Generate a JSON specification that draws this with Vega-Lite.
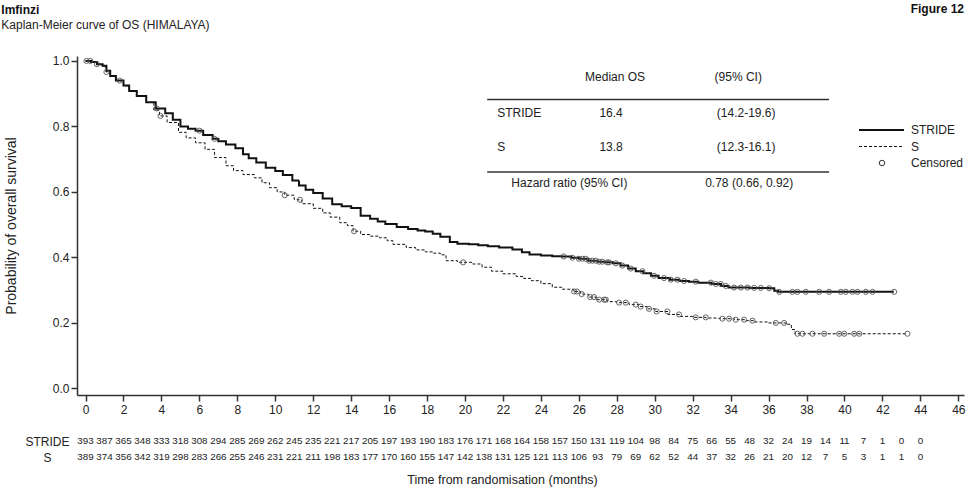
{
  "$schema": "https://vega.github.io/schema/vega-lite/v6.json",
  "background": "white",
  "padding": {"left": 1, "top": 2, "right": 2, "bottom": 2},
  "config": {
    "font": "Liberation Sans",
    "view": {"stroke": null},
    "axis": {"grid": false, "domainColor": "#333", "tickColor": "#333", "labelColor": "#222", "titleColor": "#222", "labelFont": "Liberation Sans", "titleFont": "Liberation Sans", "labelFontSize": 12, "titleFontSize": 12.5, "titleFontWeight": "normal", "domainWidth": 1.5, "tickWidth": 1.5},
    "legend": {"labelFont": "Liberation Sans", "labelFontSize": 12, "labelColor": "#222", "padding": 0},
    "title": {"font": "Liberation Sans", "subtitleFont": "Liberation Sans"},
    "text": {"font": "Liberation Sans"},
    "concat": {"spacing": 18}
  },
  "title": {"text": "Figure 12", "anchor": "end", "fontSize": 12, "fontWeight": "bold", "color": "#111", "offset": -12, "frame": "group"},
  "datasets": {
    "km": [
      {"arm":"STRIDE","month":0,"surv":1.0},{"arm":"STRIDE","month":0.3,"surv":0.997},{"arm":"STRIDE","month":0.6,"surv":0.99},{"arm":"STRIDE","month":0.9,"surv":0.985},{"arm":"STRIDE","month":1.1,"surv":0.97},{"arm":"STRIDE","month":1.3,"surv":0.954},{"arm":"STRIDE","month":1.6,"surv":0.94},{"arm":"STRIDE","month":2.0,"surv":0.925},{"arm":"STRIDE","month":2.3,"surv":0.908},{"arm":"STRIDE","month":2.7,"surv":0.893},{"arm":"STRIDE","month":3.2,"surv":0.874},{"arm":"STRIDE","month":3.7,"surv":0.855},{"arm":"STRIDE","month":4.2,"surv":0.84},{"arm":"STRIDE","month":4.6,"surv":0.82},{"arm":"STRIDE","month":5.0,"surv":0.8},{"arm":"STRIDE","month":5.4,"surv":0.793},{"arm":"STRIDE","month":5.8,"surv":0.787},{"arm":"STRIDE","month":6.2,"surv":0.774},{"arm":"STRIDE","month":6.7,"surv":0.762},{"arm":"STRIDE","month":7.0,"surv":0.755},{"arm":"STRIDE","month":7.4,"surv":0.745},{"arm":"STRIDE","month":7.9,"surv":0.733},{"arm":"STRIDE","month":8.3,"surv":0.715},{"arm":"STRIDE","month":8.6,"surv":0.703},{"arm":"STRIDE","month":9.0,"surv":0.69},{"arm":"STRIDE","month":9.5,"surv":0.674},{"arm":"STRIDE","month":10.0,"surv":0.664},{"arm":"STRIDE","month":10.4,"surv":0.652},{"arm":"STRIDE","month":10.9,"surv":0.635},{"arm":"STRIDE","month":11.25,"surv":0.62},{"arm":"STRIDE","month":11.6,"surv":0.607},{"arm":"STRIDE","month":12.0,"surv":0.597},{"arm":"STRIDE","month":12.5,"surv":0.58},{"arm":"STRIDE","month":13.0,"surv":0.562},{"arm":"STRIDE","month":13.5,"surv":0.556},{"arm":"STRIDE","month":14.0,"surv":0.551},{"arm":"STRIDE","month":14.5,"surv":0.527},{"arm":"STRIDE","month":15.0,"surv":0.518},{"arm":"STRIDE","month":15.4,"surv":0.51},{"arm":"STRIDE","month":15.8,"surv":0.502},{"arm":"STRIDE","month":16.4,"surv":0.493},{"arm":"STRIDE","month":17.0,"surv":0.487},{"arm":"STRIDE","month":17.5,"surv":0.482},{"arm":"STRIDE","month":17.9,"surv":0.479},{"arm":"STRIDE","month":18.3,"surv":0.472},{"arm":"STRIDE","month":18.7,"surv":0.463},{"arm":"STRIDE","month":19.2,"surv":0.447},{"arm":"STRIDE","month":19.6,"surv":0.442},{"arm":"STRIDE","month":20.2,"surv":0.44},{"arm":"STRIDE","month":20.7,"surv":0.437},{"arm":"STRIDE","month":21.2,"surv":0.434},{"arm":"STRIDE","month":21.8,"surv":0.43},{"arm":"STRIDE","month":22.5,"surv":0.424},{"arm":"STRIDE","month":23.0,"surv":0.416},{"arm":"STRIDE","month":23.4,"surv":0.409},{"arm":"STRIDE","month":24.0,"surv":0.406},{"arm":"STRIDE","month":24.6,"surv":0.404},{"arm":"STRIDE","month":25.1,"surv":0.403},{"arm":"STRIDE","month":25.6,"surv":0.399},{"arm":"STRIDE","month":26.0,"surv":0.396},{"arm":"STRIDE","month":26.5,"surv":0.39},{"arm":"STRIDE","month":27.0,"surv":0.387},{"arm":"STRIDE","month":27.4,"surv":0.385},{"arm":"STRIDE","month":27.8,"surv":0.382},{"arm":"STRIDE","month":28.2,"surv":0.375},{"arm":"STRIDE","month":28.6,"surv":0.366},{"arm":"STRIDE","month":29.0,"surv":0.358},{"arm":"STRIDE","month":29.4,"surv":0.352},{"arm":"STRIDE","month":29.8,"surv":0.344},{"arm":"STRIDE","month":30.2,"surv":0.337},{"arm":"STRIDE","month":30.8,"surv":0.332},{"arm":"STRIDE","month":31.3,"surv":0.328},{"arm":"STRIDE","month":31.8,"surv":0.326},{"arm":"STRIDE","month":32.3,"surv":0.323},{"arm":"STRIDE","month":33.0,"surv":0.319},{"arm":"STRIDE","month":33.5,"surv":0.313},{"arm":"STRIDE","month":33.9,"surv":0.308},{"arm":"STRIDE","month":35.0,"surv":0.307},{"arm":"STRIDE","month":36.0,"surv":0.306},{"arm":"STRIDE","month":36.3,"surv":0.298},{"arm":"STRIDE","month":36.5,"surv":0.295},{"arm":"STRIDE","month":42.6,"surv":0.295},
      {"arm":"S","month":0,"surv":1.0},{"arm":"S","month":0.3,"surv":0.996},{"arm":"S","month":0.6,"surv":0.99},{"arm":"S","month":0.9,"surv":0.982},{"arm":"S","month":1.1,"surv":0.966},{"arm":"S","month":1.3,"surv":0.954},{"arm":"S","month":1.6,"surv":0.94},{"arm":"S","month":2.0,"surv":0.924},{"arm":"S","month":2.3,"surv":0.908},{"arm":"S","month":2.7,"surv":0.893},{"arm":"S","month":3.2,"surv":0.873},{"arm":"S","month":3.6,"surv":0.85},{"arm":"S","month":3.9,"surv":0.832},{"arm":"S","month":4.3,"surv":0.812},{"arm":"S","month":4.9,"surv":0.782},{"arm":"S","month":5.3,"surv":0.765},{"arm":"S","month":5.8,"surv":0.75},{"arm":"S","month":6.3,"surv":0.73},{"arm":"S","month":6.8,"surv":0.705},{"arm":"S","month":7.4,"surv":0.68},{"arm":"S","month":7.8,"surv":0.665},{"arm":"S","month":8.3,"surv":0.653},{"arm":"S","month":8.9,"surv":0.643},{"arm":"S","month":9.3,"surv":0.628},{"arm":"S","month":9.7,"surv":0.613},{"arm":"S","month":10.1,"surv":0.6},{"arm":"S","month":10.5,"surv":0.59},{"arm":"S","month":11.0,"surv":0.576},{"arm":"S","month":11.4,"surv":0.564},{"arm":"S","month":12.0,"surv":0.55},{"arm":"S","month":12.5,"surv":0.536},{"arm":"S","month":12.9,"surv":0.523},{"arm":"S","month":13.4,"surv":0.506},{"arm":"S","month":13.8,"surv":0.497},{"arm":"S","month":14.1,"surv":0.48},{"arm":"S","month":14.5,"surv":0.47},{"arm":"S","month":15.0,"surv":0.465},{"arm":"S","month":15.5,"surv":0.46},{"arm":"S","month":15.9,"surv":0.451},{"arm":"S","month":16.2,"surv":0.44},{"arm":"S","month":16.9,"surv":0.43},{"arm":"S","month":17.4,"surv":0.423},{"arm":"S","month":17.9,"surv":0.417},{"arm":"S","month":18.3,"surv":0.413},{"arm":"S","month":18.7,"surv":0.408},{"arm":"S","month":19.0,"surv":0.39},{"arm":"S","month":19.6,"surv":0.385},{"arm":"S","month":20.4,"surv":0.38},{"arm":"S","month":20.9,"surv":0.37},{"arm":"S","month":21.4,"surv":0.358},{"arm":"S","month":22.0,"surv":0.35},{"arm":"S","month":22.7,"surv":0.342},{"arm":"S","month":23.1,"surv":0.336},{"arm":"S","month":23.5,"surv":0.329},{"arm":"S","month":24.0,"surv":0.32},{"arm":"S","month":24.6,"surv":0.309},{"arm":"S","month":25.1,"surv":0.303},{"arm":"S","month":25.7,"surv":0.296},{"arm":"S","month":26.1,"surv":0.288},{"arm":"S","month":26.5,"surv":0.279},{"arm":"S","month":26.9,"surv":0.271},{"arm":"S","month":27.5,"surv":0.265},{"arm":"S","month":28.0,"surv":0.262},{"arm":"S","month":28.65,"surv":0.256},{"arm":"S","month":29.2,"surv":0.25},{"arm":"S","month":29.6,"surv":0.243},{"arm":"S","month":30.05,"surv":0.235},{"arm":"S","month":30.7,"surv":0.226},{"arm":"S","month":31.3,"surv":0.22},{"arm":"S","month":32.0,"surv":0.217},{"arm":"S","month":32.7,"surv":0.215},{"arm":"S","month":33.4,"surv":0.213},{"arm":"S","month":34.2,"surv":0.21},{"arm":"S","month":34.8,"surv":0.207},{"arm":"S","month":35.2,"surv":0.203},{"arm":"S","month":36.0,"surv":0.2},{"arm":"S","month":36.9,"surv":0.196},{"arm":"S","month":37.2,"surv":0.18},{"arm":"S","month":37.4,"surv":0.167},{"arm":"S","month":43.3,"surv":0.167}
    ],
    "censored": [
      {"arm":"STRIDE","month":0.05,"surv":1.0,"status":"Censored"},{"arm":"STRIDE","month":0.6,"surv":0.99,"status":"Censored"},{"arm":"STRIDE","month":3.75,"surv":0.855,"status":"Censored"},{"arm":"STRIDE","month":6.0,"surv":0.787,"status":"Censored"},{"arm":"STRIDE","month":6.8,"surv":0.762,"status":"Censored"},
      {"arm":"STRIDE","month":25.2,"surv":0.403,"status":"Censored"},{"arm":"STRIDE","month":25.66,"surv":0.399,"status":"Censored"},{"arm":"STRIDE","month":26.0,"surv":0.396,"status":"Censored"},{"arm":"STRIDE","month":26.19,"surv":0.396,"status":"Censored"},{"arm":"STRIDE","month":26.36,"surv":0.396,"status":"Censored"},{"arm":"STRIDE","month":26.54,"surv":0.39,"status":"Censored"},{"arm":"STRIDE","month":26.71,"surv":0.39,"status":"Censored"},{"arm":"STRIDE","month":26.89,"surv":0.39,"status":"Censored"},{"arm":"STRIDE","month":27.07,"surv":0.387,"status":"Censored"},{"arm":"STRIDE","month":27.24,"surv":0.387,"status":"Censored"},{"arm":"STRIDE","month":27.5,"surv":0.385,"status":"Censored"},{"arm":"STRIDE","month":27.59,"surv":0.385,"status":"Censored"},{"arm":"STRIDE","month":27.95,"surv":0.382,"status":"Censored"},{"arm":"STRIDE","month":28.29,"surv":0.375,"status":"Censored"},{"arm":"STRIDE","month":28.74,"surv":0.366,"status":"Censored"},{"arm":"STRIDE","month":29.35,"surv":0.358,"status":"Censored"},{"arm":"STRIDE","month":29.97,"surv":0.344,"status":"Censored"},{"arm":"STRIDE","month":30.49,"surv":0.337,"status":"Censored"},{"arm":"STRIDE","month":30.85,"surv":0.332,"status":"Censored"},{"arm":"STRIDE","month":31.19,"surv":0.332,"status":"Censored"},{"arm":"STRIDE","month":31.55,"surv":0.328,"status":"Censored"},{"arm":"STRIDE","month":32.16,"surv":0.326,"status":"Censored"},{"arm":"STRIDE","month":32.96,"surv":0.323,"status":"Censored"},{"arm":"STRIDE","month":33.22,"surv":0.319,"status":"Censored"},{"arm":"STRIDE","month":33.48,"surv":0.319,"status":"Censored"},{"arm":"STRIDE","month":33.75,"surv":0.313,"status":"Censored"},{"arm":"STRIDE","month":34.18,"surv":0.308,"status":"Censored"},{"arm":"STRIDE","month":34.54,"surv":0.308,"status":"Censored"},{"arm":"STRIDE","month":34.89,"surv":0.308,"status":"Censored"},{"arm":"STRIDE","month":35.24,"surv":0.307,"status":"Censored"},{"arm":"STRIDE","month":35.59,"surv":0.307,"status":"Censored"},{"arm":"STRIDE","month":36.03,"surv":0.306,"status":"Censored"},{"arm":"STRIDE","month":36.56,"surv":0.295,"status":"Censored"},{"arm":"STRIDE","month":37.26,"surv":0.295,"status":"Censored"},{"arm":"STRIDE","month":37.52,"surv":0.295,"status":"Censored"},{"arm":"STRIDE","month":37.96,"surv":0.295,"status":"Censored"},{"arm":"STRIDE","month":38.67,"surv":0.295,"status":"Censored"},{"arm":"STRIDE","month":39.19,"surv":0.295,"status":"Censored"},{"arm":"STRIDE","month":39.81,"surv":0.295,"status":"Censored"},{"arm":"STRIDE","month":40.07,"surv":0.295,"status":"Censored"},{"arm":"STRIDE","month":40.42,"surv":0.295,"status":"Censored"},{"arm":"STRIDE","month":40.69,"surv":0.295,"status":"Censored"},{"arm":"STRIDE","month":41.13,"surv":0.295,"status":"Censored"},{"arm":"STRIDE","month":41.48,"surv":0.295,"status":"Censored"},{"arm":"STRIDE","month":42.62,"surv":0.295,"status":"Censored"},
      {"arm":"S","month":0.25,"surv":1.0,"status":"Censored"},{"arm":"S","month":1.1,"surv":0.966,"status":"Censored"},{"arm":"S","month":1.8,"surv":0.94,"status":"Censored"},{"arm":"S","month":3.95,"surv":0.832,"status":"Censored"},{"arm":"S","month":10.5,"surv":0.59,"status":"Censored"},{"arm":"S","month":11.3,"surv":0.576,"status":"Censored"},{"arm":"S","month":14.15,"surv":0.48,"status":"Censored"},{"arm":"S","month":19.9,"surv":0.385,"status":"Censored"},
      {"arm":"S","month":25.75,"surv":0.296,"status":"Censored"},{"arm":"S","month":25.9,"surv":0.296,"status":"Censored"},{"arm":"S","month":26.15,"surv":0.288,"status":"Censored"},{"arm":"S","month":26.6,"surv":0.279,"status":"Censored"},{"arm":"S","month":26.8,"surv":0.279,"status":"Censored"},{"arm":"S","month":27.07,"surv":0.271,"status":"Censored"},{"arm":"S","month":27.33,"surv":0.271,"status":"Censored"},{"arm":"S","month":27.42,"surv":0.271,"status":"Censored"},{"arm":"S","month":28.12,"surv":0.262,"status":"Censored"},{"arm":"S","month":28.47,"surv":0.262,"status":"Censored"},{"arm":"S","month":29.0,"surv":0.256,"status":"Censored"},{"arm":"S","month":29.26,"surv":0.25,"status":"Censored"},{"arm":"S","month":29.7,"surv":0.243,"status":"Censored"},{"arm":"S","month":30.1,"surv":0.235,"status":"Censored"},{"arm":"S","month":30.67,"surv":0.235,"status":"Censored"},{"arm":"S","month":31.28,"surv":0.226,"status":"Censored"},{"arm":"S","month":32.16,"surv":0.217,"status":"Censored"},{"arm":"S","month":32.69,"surv":0.217,"status":"Censored"},{"arm":"S","month":33.57,"surv":0.213,"status":"Censored"},{"arm":"S","month":33.92,"surv":0.213,"status":"Censored"},{"arm":"S","month":34.27,"surv":0.21,"status":"Censored"},{"arm":"S","month":34.71,"surv":0.21,"status":"Censored"},{"arm":"S","month":35.15,"surv":0.207,"status":"Censored"},{"arm":"S","month":36.38,"surv":0.2,"status":"Censored"},{"arm":"S","month":36.82,"surv":0.2,"status":"Censored"},{"arm":"S","month":37.52,"surv":0.167,"status":"Censored"},{"arm":"S","month":37.79,"surv":0.167,"status":"Censored"},{"arm":"S","month":38.31,"surv":0.167,"status":"Censored"},{"arm":"S","month":38.93,"surv":0.167,"status":"Censored"},{"arm":"S","month":39.72,"surv":0.167,"status":"Censored"},{"arm":"S","month":39.99,"surv":0.167,"status":"Censored"},{"arm":"S","month":40.51,"surv":0.167,"status":"Censored"},{"arm":"S","month":40.78,"surv":0.167,"status":"Censored"},{"arm":"S","month":43.32,"surv":0.167,"status":"Censored"}
    ],
    "risk": [
      {"arm":"STRIDE","month":0,"n":393},{"arm":"STRIDE","month":1,"n":387},{"arm":"STRIDE","month":2,"n":365},{"arm":"STRIDE","month":3,"n":348},{"arm":"STRIDE","month":4,"n":333},{"arm":"STRIDE","month":5,"n":318},{"arm":"STRIDE","month":6,"n":308},{"arm":"STRIDE","month":7,"n":294},{"arm":"STRIDE","month":8,"n":285},{"arm":"STRIDE","month":9,"n":269},{"arm":"STRIDE","month":10,"n":262},{"arm":"STRIDE","month":11,"n":245},{"arm":"STRIDE","month":12,"n":235},{"arm":"STRIDE","month":13,"n":221},{"arm":"STRIDE","month":14,"n":217},{"arm":"STRIDE","month":15,"n":205},{"arm":"STRIDE","month":16,"n":197},{"arm":"STRIDE","month":17,"n":193},{"arm":"STRIDE","month":18,"n":190},{"arm":"STRIDE","month":19,"n":183},{"arm":"STRIDE","month":20,"n":176},{"arm":"STRIDE","month":21,"n":171},{"arm":"STRIDE","month":22,"n":168},{"arm":"STRIDE","month":23,"n":164},{"arm":"STRIDE","month":24,"n":158},{"arm":"STRIDE","month":25,"n":157},{"arm":"STRIDE","month":26,"n":150},{"arm":"STRIDE","month":27,"n":131},{"arm":"STRIDE","month":28,"n":119},{"arm":"STRIDE","month":29,"n":104},{"arm":"STRIDE","month":30,"n":98},{"arm":"STRIDE","month":31,"n":84},{"arm":"STRIDE","month":32,"n":75},{"arm":"STRIDE","month":33,"n":66},{"arm":"STRIDE","month":34,"n":55},{"arm":"STRIDE","month":35,"n":48},{"arm":"STRIDE","month":36,"n":32},{"arm":"STRIDE","month":37,"n":24},{"arm":"STRIDE","month":38,"n":19},{"arm":"STRIDE","month":39,"n":14},{"arm":"STRIDE","month":40,"n":11},{"arm":"STRIDE","month":41,"n":7},{"arm":"STRIDE","month":42,"n":1},{"arm":"STRIDE","month":43,"n":0},{"arm":"STRIDE","month":44,"n":0},
      {"arm":"S","month":0,"n":389},{"arm":"S","month":1,"n":374},{"arm":"S","month":2,"n":356},{"arm":"S","month":3,"n":342},{"arm":"S","month":4,"n":319},{"arm":"S","month":5,"n":298},{"arm":"S","month":6,"n":283},{"arm":"S","month":7,"n":266},{"arm":"S","month":8,"n":255},{"arm":"S","month":9,"n":246},{"arm":"S","month":10,"n":231},{"arm":"S","month":11,"n":221},{"arm":"S","month":12,"n":211},{"arm":"S","month":13,"n":198},{"arm":"S","month":14,"n":183},{"arm":"S","month":15,"n":177},{"arm":"S","month":16,"n":170},{"arm":"S","month":17,"n":160},{"arm":"S","month":18,"n":155},{"arm":"S","month":19,"n":147},{"arm":"S","month":20,"n":142},{"arm":"S","month":21,"n":138},{"arm":"S","month":22,"n":131},{"arm":"S","month":23,"n":125},{"arm":"S","month":24,"n":121},{"arm":"S","month":25,"n":113},{"arm":"S","month":26,"n":106},{"arm":"S","month":27,"n":93},{"arm":"S","month":28,"n":79},{"arm":"S","month":29,"n":69},{"arm":"S","month":30,"n":62},{"arm":"S","month":31,"n":52},{"arm":"S","month":32,"n":44},{"arm":"S","month":33,"n":37},{"arm":"S","month":34,"n":32},{"arm":"S","month":35,"n":26},{"arm":"S","month":36,"n":21},{"arm":"S","month":37,"n":20},{"arm":"S","month":38,"n":12},{"arm":"S","month":39,"n":7},{"arm":"S","month":40,"n":5},{"arm":"S","month":41,"n":3},{"arm":"S","month":42,"n":1},{"arm":"S","month":43,"n":1},{"arm":"S","month":44,"n":0}
    ]
  },
  "vconcat": [
    {
      "width": 887,
      "height": 339,
      "title": {"text": "Imfinzi", "subtitle": "Kaplan-Meier curve of OS (HIMALAYA)", "anchor": "start", "frame": "bounds", "fontSize": 12, "fontWeight": "bold", "color": "#111", "subtitleFontSize": 12, "subtitleColor": "#222", "subtitlePadding": 3, "offset": 23, "dx": -3},
      "layer": [
        {
          "data": {"name": "km"},
          "mark": {"type": "line", "interpolate": "step-after", "color": "#111"},
          "encoding": {
            "x": {"field": "month", "type": "quantitative", "scale": {"domain": [-0.45, 46.3], "nice": false, "zero": false}, "axis": {"values": [0,2,4,6,8,10,12,14,16,18,20,22,24,26,28,30,32,34,36,38,40,42,44,46], "tickCount": 24, "title": null, "tickSize": 6, "labelPadding": 3, "labelOverlap": false, "labelFlush": false}},
            "y": {"field": "surv", "type": "quantitative", "scale": {"domain": [-0.02, 1.015], "nice": false, "zero": false}, "axis": {"values": [0,0.2,0.4,0.6,0.8,1.0], "format": ".1f", "title": "Probability of overall survival", "titleFontSize": 14, "tickSize": 6, "labelPadding": 2, "titlePadding": 34}},
            "detail": {"field": "arm"},
            "strokeDash": {"field": "arm", "type": "nominal", "scale": {"domain": ["STRIDE", "S"], "range": [[1, 0], [3, 2]]}, "legend": {"title": null, "orient": "none", "legendX": 781, "legendY": 67, "symbolType": "stroke", "symbolSize": 2025, "clipHeight": 14, "rowPadding": 2.5, "symbolStrokeColor": "#111", "labelOffset": 6}},
            "strokeWidth": {"field": "arm", "type": "nominal", "scale": {"domain": ["STRIDE", "S"], "range": [2, 1]}}
          }
        },
        {
          "data": {"name": "censored"},
          "mark": {"type": "point", "filled": false, "size": 26, "color": "#555", "strokeWidth": 0.9, "opacity": 1},
          "encoding": {
            "x": {"field": "month", "type": "quantitative", "axis": {"values": [0,2,4,6,8,10,12,14,16,18,20,22,24,26,28,30,32,34,36,38,40,42,44,46], "tickCount": 24, "title": null, "tickSize": 6, "labelPadding": 3, "labelOverlap": false, "labelFlush": false}},
            "y": {"field": "surv", "type": "quantitative"},
            "shape": {"field": "status", "type": "nominal", "scale": {"range": ["circle"]}, "legend": {"title": null, "orient": "none", "legendX": 799, "legendY": 101, "symbolSize": 30, "symbolFillColor": "white", "symbolStrokeColor": "#333", "symbolStrokeWidth": 1, "labelOffset": 23}}
          }
        },
        {"data": {"values": [{}]}, "mark": {"type": "rule", "color": "#333", "strokeWidth": 1.5}, "encoding": {"x": {"datum": 21.17}, "x2": {"datum": 39.19}, "y": {"datum": 0.882}}},
        {"data": {"values": [{}]}, "mark": {"type": "rule", "color": "#333", "strokeWidth": 1.5}, "encoding": {"x": {"datum": 21.17}, "x2": {"datum": 39.19}, "y": {"datum": 0.661}}},
        {"data": {"values": [{}]}, "mark": {"type": "text", "fontSize": 12, "color": "#222", "align": "center", "baseline": "middle"}, "encoding": {"x": {"datum": 27.91}, "y": {"datum": 0.951}, "text": {"value": "Median OS"}}},
        {"data": {"values": [{}]}, "mark": {"type": "text", "fontSize": 12, "color": "#222", "align": "center", "baseline": "middle"}, "encoding": {"x": {"datum": 34.4}, "y": {"datum": 0.951}, "text": {"value": "(95% CI)"}}},
        {"data": {"values": [{}]}, "mark": {"type": "text", "fontSize": 12, "color": "#222", "align": "left", "baseline": "middle"}, "encoding": {"x": {"datum": 21.7}, "y": {"datum": 0.841}, "text": {"value": "STRIDE"}}},
        {"data": {"values": [{}]}, "mark": {"type": "text", "fontSize": 12, "color": "#222", "align": "center", "baseline": "middle"}, "encoding": {"x": {"datum": 27.7}, "y": {"datum": 0.841}, "text": {"value": "16.4"}}},
        {"data": {"values": [{}]}, "mark": {"type": "text", "fontSize": 12, "color": "#222", "align": "center", "baseline": "middle"}, "encoding": {"x": {"datum": 34.82}, "y": {"datum": 0.841}, "text": {"value": "(14.2-19.6)"}}},
        {"data": {"values": [{}]}, "mark": {"type": "text", "fontSize": 12, "color": "#222", "align": "left", "baseline": "middle"}, "encoding": {"x": {"datum": 21.7}, "y": {"datum": 0.737}, "text": {"value": "S"}}},
        {"data": {"values": [{}]}, "mark": {"type": "text", "fontSize": 12, "color": "#222", "align": "center", "baseline": "middle"}, "encoding": {"x": {"datum": 27.7}, "y": {"datum": 0.737}, "text": {"value": "13.8"}}},
        {"data": {"values": [{}]}, "mark": {"type": "text", "fontSize": 12, "color": "#222", "align": "center", "baseline": "middle"}, "encoding": {"x": {"datum": 34.82}, "y": {"datum": 0.737}, "text": {"value": "(12.3-16.1)"}}},
        {"data": {"values": [{}]}, "mark": {"type": "text", "fontSize": 12, "color": "#222", "align": "center", "baseline": "middle"}, "encoding": {"x": {"datum": 25.5}, "y": {"datum": 0.627}, "text": {"value": "Hazard ratio (95% CI)"}}},
        {"data": {"values": [{}]}, "mark": {"type": "text", "fontSize": 12, "color": "#222", "align": "center", "baseline": "middle"}, "encoding": {"x": {"datum": 34.98}, "y": {"datum": 0.627}, "text": {"value": "0.78 (0.66, 0.92)"}}}
      ]
    },
    {
      "width": 887,
      "height": 32,
      "data": {"name": "risk"},
      "mark": {"type": "text", "fontSize": 9.8, "color": "#222"},
      "encoding": {
        "x": {"field": "month", "type": "quantitative", "scale": {"domain": [-0.45, 46.3], "nice": false, "zero": false}, "axis": {"title": "Time from randomisation (months)", "domain": false, "ticks": false, "labels": false, "titlePadding": 8, "titleX": 425}},
        "y": {"field": "arm", "type": "nominal", "sort": ["STRIDE", "S"], "axis": {"title": null, "domain": false, "ticks": false, "tickSize": 0, "labelAlign": "center", "labelPadding": 30, "labelFontSize": 12}},
        "text": {"field": "n", "type": "quantitative"}
      }
    }
  ]
}
